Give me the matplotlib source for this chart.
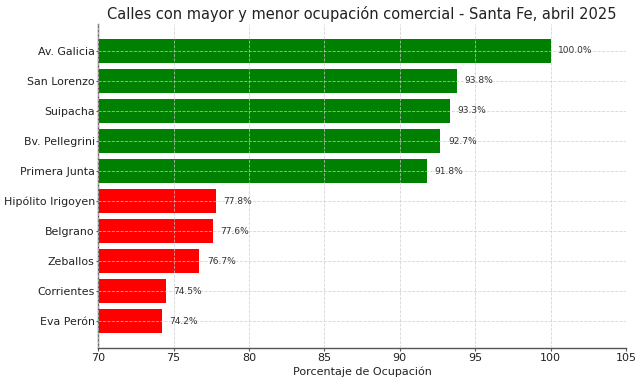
import matplotlib.pyplot as plt
import numpy as np

calles = ["Av. Galicia", "San Lorenzo", "Suipacha", "Bv. Pellegrini", "Primera Junta",
          "Hipólito Irigoyen", "Belgrano", "Zeballos", "Corrientes", "Eva Perón"]
ocupacion = [100.0, 93.8, 93.3, 92.7, 91.8, 77.8, 77.6, 76.7, 74.5, 74.2]
colores = ["green"] * 5 + ["red"] * 5

fig, ax = plt.subplots(figsize=(6.42, 3.84), dpi=100)
y = np.arange(len(calles))
ax.barh(y, ocupacion, color=colores, height=0.8, zorder=1)
ax.invert_yaxis()
ax.set_yticks(y)
ax.set_yticklabels(calles, fontsize=7.9, color="#222222")
ax.set_xlim(70, 105)
ax.tick_params(axis="x", labelsize=8, length=2, pad=1.5, color="#555555", labelcolor="#222222")
ax.tick_params(axis="y", length=1.5, pad=1, color="#555555")
ax.set_xlabel("Porcentaje de Ocupación", fontsize=8, labelpad=3, color="#222222")
ax.set_title("Calles con mayor y menor ocupación comercial - Santa Fe, abril 2025",
             fontsize=10.5, pad=4, color="#222222")

for yi, v in zip(y, ocupacion):
    ax.text(v + 0.5, yi, f"{v:.1f}%", va="center", ha="left", fontsize=6.5, color="#333333")

ax.grid(True, linestyle="--", linewidth=0.6, color="#cccccc", alpha=0.8, zorder=2)
ax.set_axisbelow(False)
for s in ["top", "right"]:
    ax.spines[s].set_visible(False)
for s in ["left", "bottom"]:
    ax.spines[s].set_color("#555555")
    ax.spines[s].set_linewidth(1.0)

fig.subplots_adjust(left=0.153, right=0.975, top=0.937, bottom=0.094)
fig.savefig("out.png", dpi=100)
